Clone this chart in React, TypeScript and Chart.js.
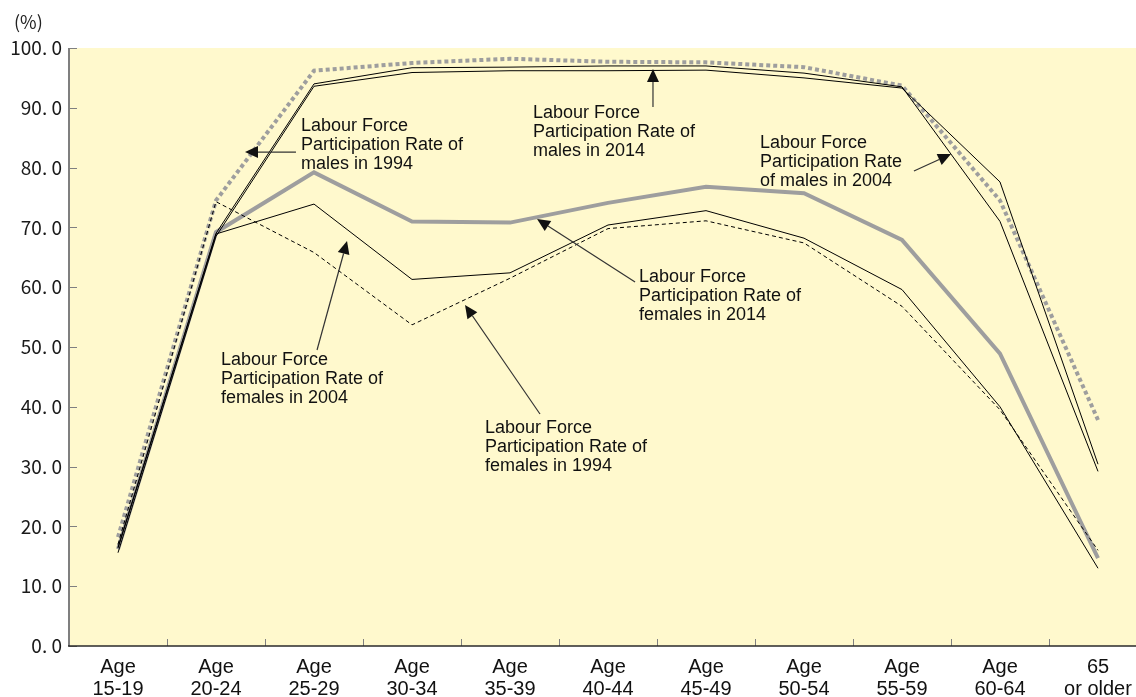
import React, { useEffect, useRef } from 'react';
import { Chart, registerables } from 'chart.js';

Chart.register(...registerables);

// ---- data ----
const categories: string[][] = [
  ['Age', '15-19'],
  ['Age', '20-24'],
  ['Age', '25-29'],
  ['Age', '30-34'],
  ['Age', '35-39'],
  ['Age', '40-44'],
  ['Age', '45-49'],
  ['Age', '50-54'],
  ['Age', '55-59'],
  ['Age', '60-64'],
  ['65', 'or older'],
];

const yTicks = [0, 10, 20, 30, 40, 50, 60, 70, 80, 90, 100];

const males1994 = [18.2, 74.5, 96.2, 97.5, 98.2, 97.7, 97.6, 96.8, 93.7, 74.5, 37.8];
const males2004 = [16.5, 69.0, 94.0, 96.7, 96.8, 97.0, 97.0, 95.8, 93.5, 71.0, 29.2];
const males2014 = [15.6, 68.5, 93.6, 95.9, 96.2, 96.2, 96.3, 95.0, 93.3, 77.6, 30.4];
const females1994 = [17.0, 74.3, 65.8, 53.7, 61.5, 69.8, 71.1, 67.4, 56.8, 39.5, 16.0];
const females2004 = [16.4, 68.9, 73.9, 61.3, 62.4, 70.4, 72.8, 68.2, 59.6, 40.0, 13.0];
const females2014 = [16.2, 69.2, 79.2, 71.0, 70.8, 74.1, 76.8, 75.7, 67.9, 48.9, 14.7];

// annotation texts; anchors given in data space (category index, percent)
const noteTexts: string[][] = [
  ['Labour Force', 'Participation Rate of', 'males in 1994'],
  ['Labour Force', 'Participation Rate of', 'males in 2014'],
  ['Labour Force', 'Participation Rate', 'of males in 2004'],
  ['Labour Force', 'Participation Rate of', 'females in 2014'],
  ['Labour Force', 'Participation Rate of', 'females in 2004'],
  ['Labour Force', 'Participation Rate of', 'females in 1994'],
];
const noteTextAt: number[][] = [
  [1.867, 86.96],
  [4.235, 89.13],
  [6.551, 84.11],
  [5.316, 61.71],
  [1.051, 47.83],
  [3.745, 36.45],
];
const noteArrowFrom: number[][] = [
  [1.816, 82.6],
  [5.459, 90.13],
  [8.122, 79.43],
  [5.276, 60.87],
  [2.031, 49.5],
  [4.306, 38.8],
];
const noteArrowTo: number[][] = [
  [1.296, 82.6],
  [5.459, 96.49],
  [8.5, 82.27],
  [4.276, 71.4],
  [2.337, 67.73],
  [3.541, 57.02],
];

const BG = '#FFF9CD';
const GRAY = '#9e9e9e';

const decorPlugin = {
  id: 'decor',
  beforeDraw(chart: any) {
    const { ctx, chartArea } = chart;
    ctx.save();
    ctx.fillStyle = '#ffffff';
    ctx.fillRect(0, 0, chart.width, chart.height);
    ctx.fillStyle = BG;
    ctx.fillRect(chartArea.left, chartArea.top, chartArea.right - chartArea.left, chartArea.bottom - chartArea.top);
    ctx.restore();
  },
  afterDraw(chart: any) {
    const { ctx, chartArea } = chart;
    const xs = chart.scales.x;
    const ys = chart.scales.y;
    ctx.save();
    // inward tick marks
    ctx.strokeStyle = '#808080';
    ctx.lineWidth = 1;
    for (const v of yTicks) {
      const y = Math.round(ys.getPixelForValue(v)) + 0.5;
      ctx.beginPath();
      ctx.moveTo(chartArea.left, y);
      ctx.lineTo(chartArea.left + 8, y);
      ctx.stroke();
    }
    for (let i = 1; i < categories.length; i++) {
      const x = Math.round(xs.getPixelForValue(i - 0.5)) + 0.5;
      ctx.beginPath();
      ctx.moveTo(x, chartArea.bottom);
      ctx.lineTo(x, chartArea.bottom - 7);
      ctx.stroke();
    }
    // axes
    ctx.strokeStyle = '#7f7f7f';
    ctx.lineWidth = 2;
    ctx.beginPath();
    ctx.moveTo(chartArea.left, chartArea.top);
    ctx.lineTo(chartArea.left, chartArea.bottom);
    ctx.stroke();
    ctx.strokeStyle = '#2a2a2a';
    ctx.lineWidth = 1.5;
    ctx.beginPath();
    ctx.moveTo(chartArea.left - 1, chartArea.bottom);
    ctx.lineTo(chartArea.right, chartArea.bottom);
    ctx.stroke();

    // unit label
    ctx.fillStyle = '#222';
    ctx.font = '18px "Noto Sans CJK JP", sans-serif';
    ctx.textBaseline = 'middle';
    ctx.textAlign = 'left';
    ctx.fillText('(%)', chartArea.left - 55, chartArea.top - 26);

    // annotations
    ctx.font = '18px "Liberation Sans", Arial, sans-serif';
    ctx.fillStyle = '#111';
    ctx.textAlign = 'left';
    ctx.textBaseline = 'middle';
    noteTexts.forEach((lines, k) => {
      const tx = xs.getPixelForValue(noteTextAt[k][0]);
      const ty = ys.getPixelForValue(noteTextAt[k][1]);
      ctx.fillStyle = '#111';
      lines.forEach((ln, j) => ctx.fillText(ln, tx, ty + j * 19));
      const fx = xs.getPixelForValue(noteArrowFrom[k][0]);
      const fy = ys.getPixelForValue(noteArrowFrom[k][1]);
      const px = xs.getPixelForValue(noteArrowTo[k][0]);
      const py = ys.getPixelForValue(noteArrowTo[k][1]);
      const ang = Math.atan2(py - fy, px - fx);
      const headLen = 13;
      const headHalf = 6;
      const bx = px - headLen * Math.cos(ang);
      const by = py - headLen * Math.sin(ang);
      ctx.strokeStyle = '#333';
      ctx.lineWidth = 1.2;
      ctx.beginPath();
      ctx.moveTo(fx, fy);
      ctx.lineTo(bx, by);
      ctx.stroke();
      ctx.beginPath();
      ctx.moveTo(px, py);
      ctx.lineTo(bx + headHalf * Math.sin(ang), by - headHalf * Math.cos(ang));
      ctx.lineTo(bx - headHalf * Math.sin(ang), by + headHalf * Math.cos(ang));
      ctx.closePath();
      ctx.fill();
    });
    ctx.restore();
  },
};

export default function App() {
  const ref = useRef<HTMLCanvasElement | null>(null);
  useEffect(() => {
    document.body.style.margin = '0';
    const canvas = ref.current as HTMLCanvasElement;
    const thin = { borderColor: '#000', borderWidth: 1, pointRadius: 0, tension: 0, fill: false };
    const chart = new Chart(canvas, {
      type: 'line',
      data: {
        labels: categories as any,
        datasets: [
          { label: 'Labour Force Participation Rate of males in 2004', data: males2004, ...thin },
          { label: 'Labour Force Participation Rate of males in 2014', data: males2014, ...thin },
          { label: 'Labour Force Participation Rate of females in 2004', data: females2004, ...thin },
          { label: 'Labour Force Participation Rate of females in 1994', data: females1994, ...thin, borderDash: [4, 3] },
          {
            label: 'Labour Force Participation Rate of males in 1994',
            data: males1994,
            borderColor: GRAY,
            borderWidth: 4,
            borderDash: [4, 3],
            borderCapStyle: 'butt',
            pointRadius: 0,
            tension: 0,
            fill: false,
          },
          {
            label: 'Labour Force Participation Rate of females in 2014',
            data: females2014,
            borderColor: GRAY,
            borderWidth: 4,
            pointRadius: 0,
            tension: 0,
            fill: false,
          },
        ],
      },
      options: {
        responsive: false,
        animation: false,
        devicePixelRatio: 1,
        layout: { padding: { top: 48, left: 0, right: 0, bottom: 0 } },
        plugins: { legend: { display: false }, tooltip: { enabled: false }, title: { display: false } },
        scales: {
          x: {
            type: 'category',
            offset: true,
            grid: { display: false, drawTicks: false },
            border: { display: false },
            ticks: {
              autoSkip: false,
              maxRotation: 0,
              minRotation: 0,
              padding: 10,
              color: '#111',
              font: { family: '"Liberation Sans", Arial, sans-serif', size: 20, lineHeight: 1.1 },
            },
            afterFit: (s: any) => {
              s.height = 51;
            },
          },
          y: {
            min: 0,
            max: 100,
            grid: { display: false, drawTicks: false },
            border: { display: false },
            ticks: {
              stepSize: 10,
              padding: 7,
              color: '#1a1a1a',
              font: { family: '"Noto Sans CJK JP", sans-serif', size: 19 },
              callback: (v: any) => Number(v).toFixed(1).replace('.', '. '),
            },
            afterFit: (s: any) => {
              s.width = 69;
            },
          },
        },
      },
      plugins: [decorPlugin],
    });
    return () => chart.destroy();
  }, []);
  return (
    <div
      style={{
        position: 'absolute',
        left: 0,
        top: 0,
        width: 1136,
        height: 697,
        overflow: 'hidden',
        background: '#fff',
      }}
    >
      <canvas ref={ref} width={1147} height={697} style={{ display: 'block', width: 1147, height: 697 }} />
    </div>
  );
}
